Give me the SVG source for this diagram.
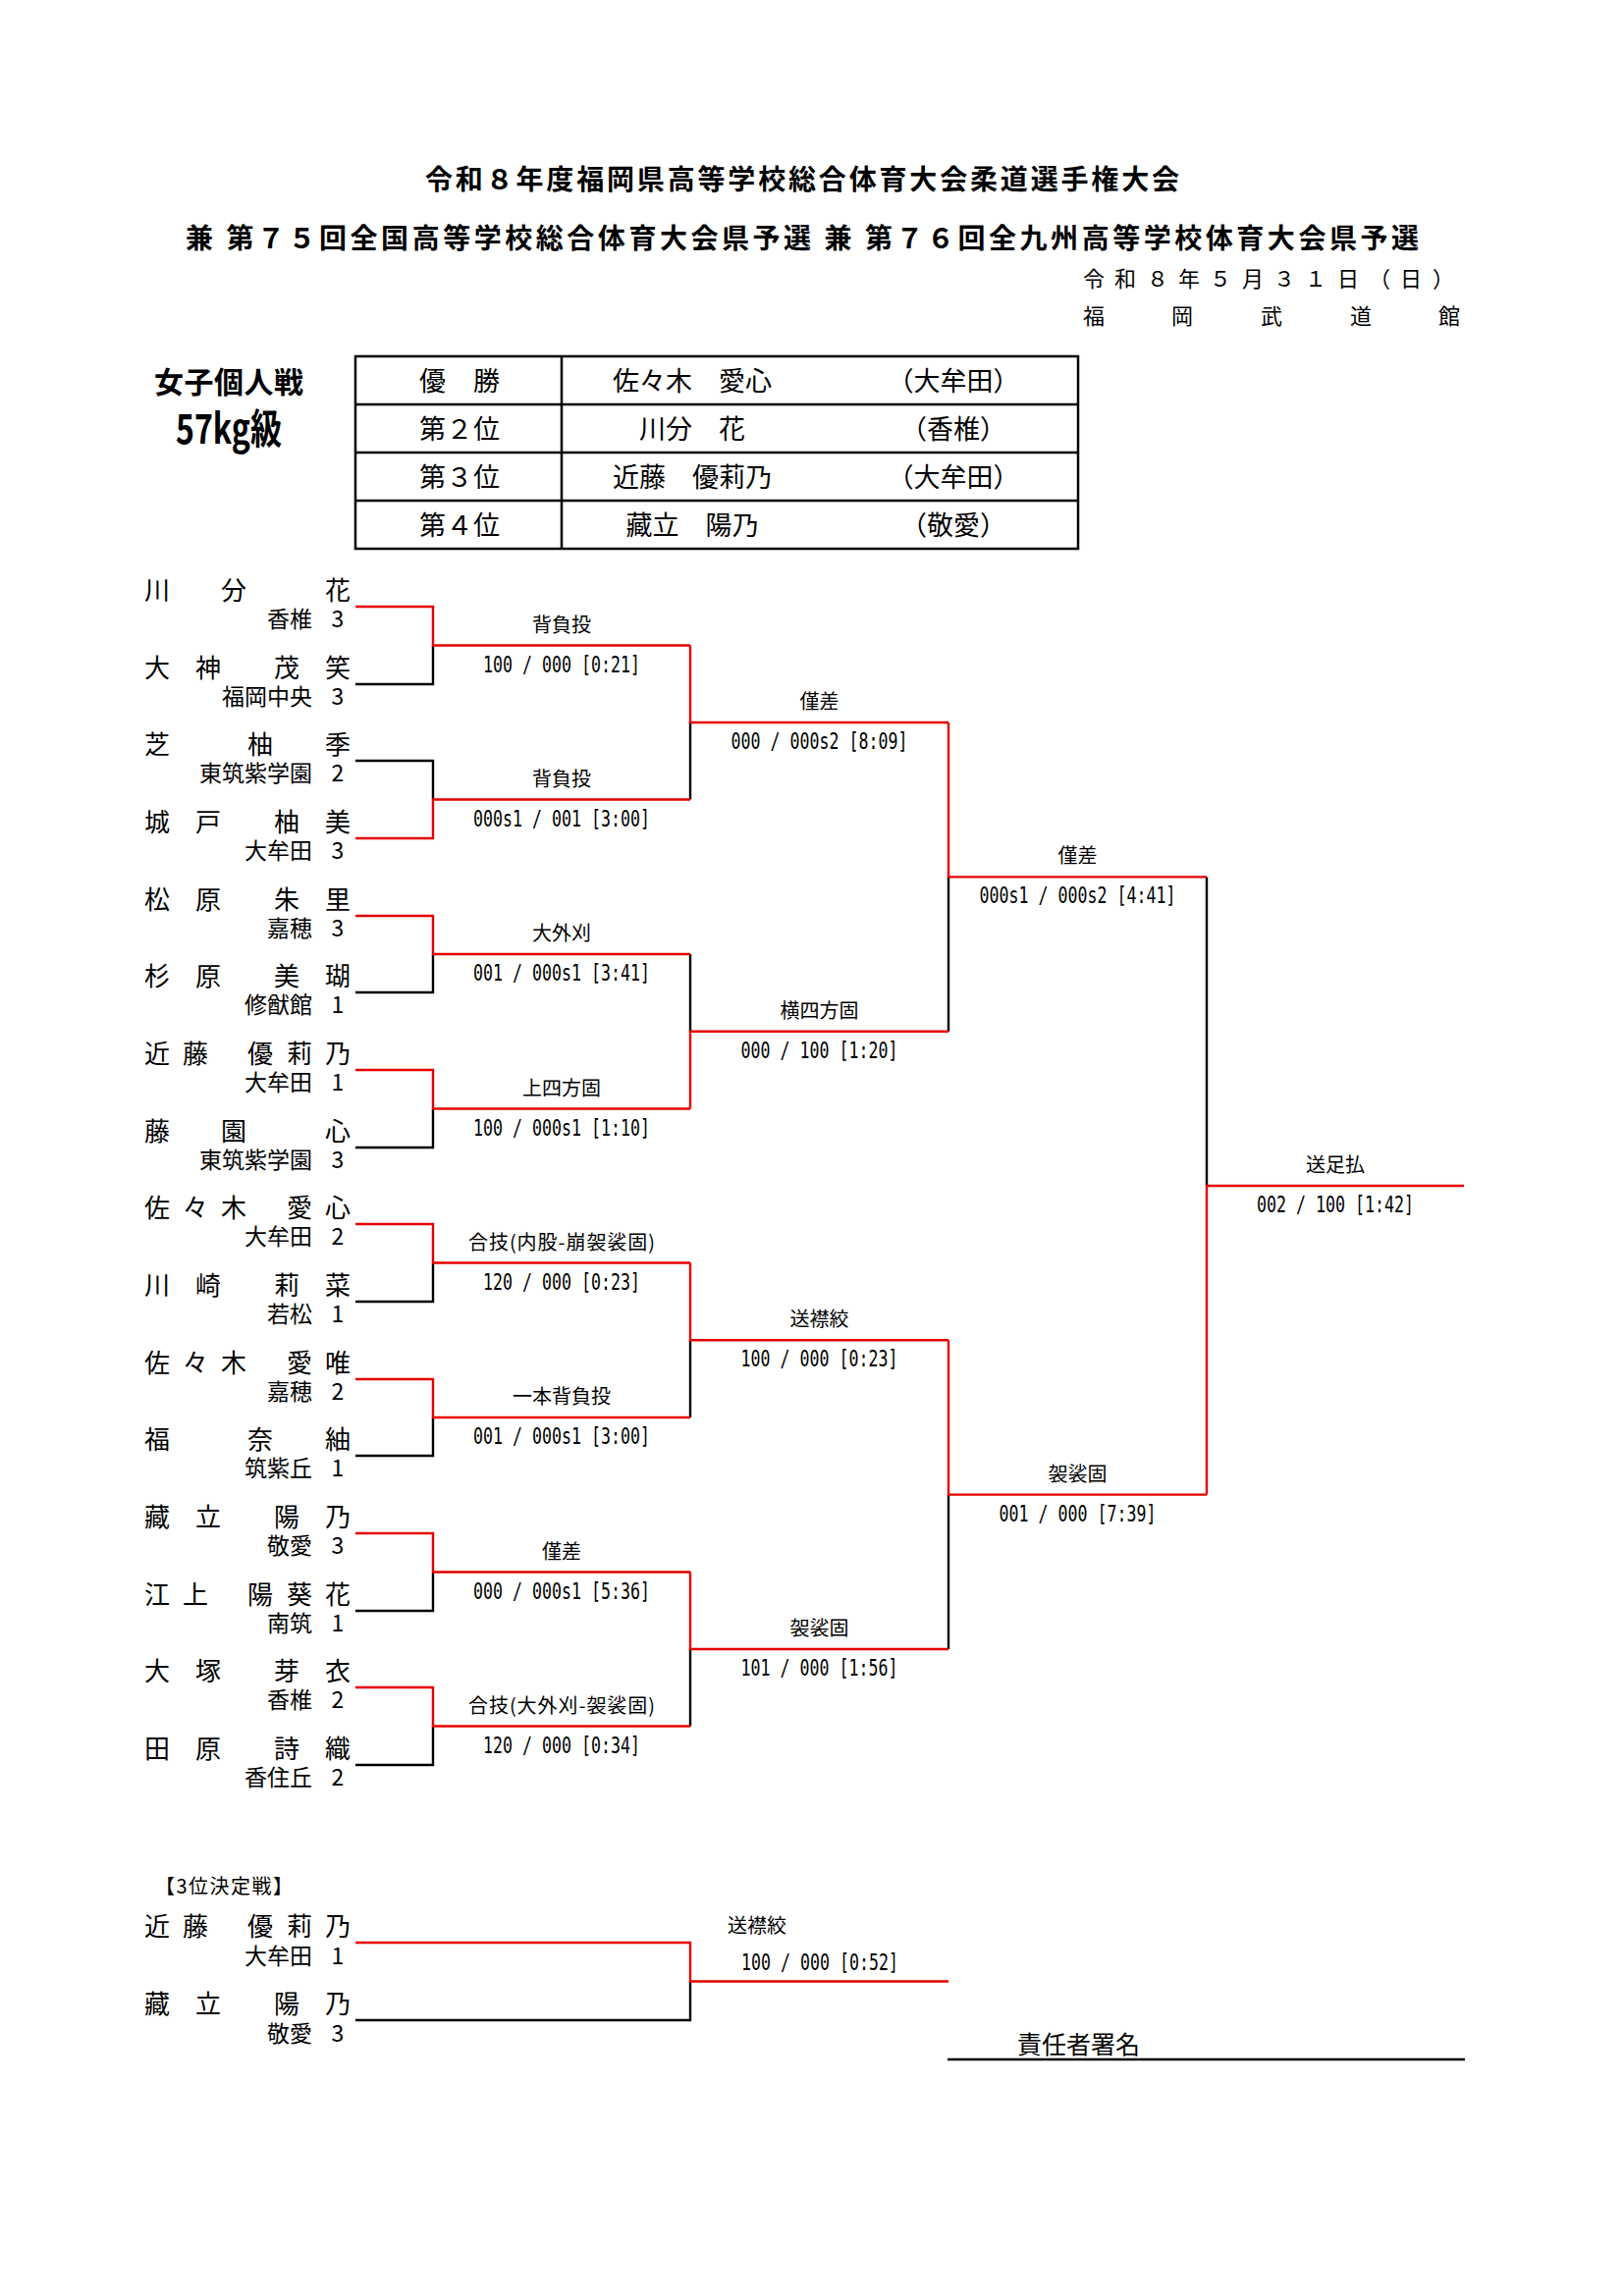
<svg xmlns="http://www.w3.org/2000/svg" width="1654" height="2339" viewBox="0 0 1654 2339">
<style>
text{font-family:"Noto Sans CJK JP","Noto Sans CJK SC",sans-serif;fill:#000}
.tt{font-size:28px;font-weight:bold}
.hd{font-weight:bold}
.dt{font-size:22px}
.tb{font-size:27px}
.nm{font-size:26px}
.sc{font-size:23px}
.lb{font-size:20px}
.scr{font-family:"DejaVu Sans Mono",monospace;font-size:23px}
.mid{text-anchor:middle}
.end{text-anchor:end}
.k{fill:none;stroke:#000;stroke-width:2.4}
.r{fill:none;stroke:#e60000;stroke-width:2.4}
.box{fill:none;stroke:#000;stroke-width:2.5}
</style>
<rect width="1654" height="2339" fill="#fff"/>

<g id="header">
<text class="tt mid" x="817" y="193" textLength="768">令和８年度福岡県高等学校総合体育大会柔道選手権大会</text>
<text class="tt mid" x="817" y="253" textLength="1256">兼 第７５回全国高等学校総合体育大会県予選 兼 第７６回全九州高等学校体育大会県予選</text>
<text class="dt" x="1103 1135 1168 1200 1232 1265 1297 1329 1362 1394 1426 1459" y="292">令和８年５月３１日（日）</text>
<text class="dt" x="1103 1193 1284 1375 1465" y="330">福岡武道館</text>
<text class="hd" x="157" y="400" font-size="30" textLength="152">女子個人戦</text>
<text class="hd" x="179" y="452" font-size="42" textLength="108" lengthAdjust="spacingAndGlyphs">57kg級</text>
</g>

<g id="results-table">
<rect class="box" x="362" y="363" width="736" height="196"/>
<path class="box" d="M362,412H1098M362,461H1098M362,510H1098M572,363V559"/>
<text class="tb mid" x="468" y="398" textLength="82">優　勝</text>
<text class="tb mid" x="705" y="398">佐々木　愛心</text>
<text class="tb mid" x="971" y="398">（大牟田）</text>
<text class="tb mid" x="468" y="447" textLength="82">第２位</text>
<text class="tb mid" x="705" y="447">川分　花</text>
<text class="tb mid" x="971" y="447">（香椎）</text>
<text class="tb mid" x="468" y="496" textLength="82">第３位</text>
<text class="tb mid" x="705" y="496">近藤　優莉乃</text>
<text class="tb mid" x="971" y="496">（大牟田）</text>
<text class="tb mid" x="468" y="545" textLength="82">第４位</text>
<text class="tb mid" x="705" y="545">藏立　陽乃</text>
<text class="tb mid" x="971" y="545">（敬愛）</text>
</g>

<g id="connectors">
<path class="k" d="M362,697H441V657.5M362,775H441V814.5M362,1011H441V972M362,1169H441V1129.5M362,1326H441V1286.5M362,1483H441V1444M362,1641H441V1601.5M362,1798H441V1758.5"/>
<path class="k" d="M703,814.5V736M703,972V1050.75M703,1444V1365.25M703,1758.5V1680"/>
<path class="k" d="M966,1050.75V893.4M966,1680V1522.6M1229,893.4V1208"/>
<path class="k" d="M362,2058H703V2018.5"/>
<path class="r" d="M362,618H441V657.5H703M362,854H441V814.5H703M362,933H441V972H703M362,1090H441V1129.5H703M362,1247H441V1286.5H703M362,1405H441V1444H703M362,1562H441V1601.5H703M362,1719H441V1758.5H703"/>
<path class="r" d="M703,657.5V736H966M703,1129.5V1050.75H966M703,1286.5V1365.25H966M703,1601.5V1680H966"/>
<path class="r" d="M966,736V893.4H1229M966,1365.25V1522.6H1229M1229,1522.6V1208H1491"/>
<path class="r" d="M362,1979H703V2018.5H966"/>
</g>

<g id="p1"><text class="nm" x="147 225 331" y="611">川分花</text><text class="sc end" x="318" y="639">香椎</text><text class="sc mid" x="344" y="639">3</text></g>
<g id="p2"><text class="nm" x="147 199 279 331" y="690">大神茂笑</text><text class="sc end" x="318" y="718">福岡中央</text><text class="sc mid" x="344" y="718">3</text></g>
<g id="p3"><text class="nm" x="147 252 331" y="768">芝柚季</text><text class="sc end" x="318" y="796">東筑紫学園</text><text class="sc mid" x="344" y="796">2</text></g>
<g id="p4"><text class="nm" x="147 199 279 331" y="847">城戸柚美</text><text class="sc end" x="318" y="875">大牟田</text><text class="sc mid" x="344" y="875">3</text></g>
<g id="p5"><text class="nm" x="147 199 279 331" y="926">松原朱里</text><text class="sc end" x="318" y="954">嘉穂</text><text class="sc mid" x="344" y="954">3</text></g>
<g id="p6"><text class="nm" x="147 199 279 331" y="1004">杉原美瑚</text><text class="sc end" x="318" y="1032">修猷館</text><text class="sc mid" x="344" y="1032">1</text></g>
<g id="p7"><text class="nm" x="147 186 252 292 331" y="1083">近藤優莉乃</text><text class="sc end" x="318" y="1111">大牟田</text><text class="sc mid" x="344" y="1111">1</text></g>
<g id="p8"><text class="nm" x="147 225 331" y="1162">藤園心</text><text class="sc end" x="318" y="1190">東筑紫学園</text><text class="sc mid" x="344" y="1190">3</text></g>
<g id="p9"><text class="nm" x="147 186 225 292 331" y="1240">佐々木愛心</text><text class="sc end" x="318" y="1268">大牟田</text><text class="sc mid" x="344" y="1268">2</text></g>
<g id="p10"><text class="nm" x="147 199 279 331" y="1319">川崎莉菜</text><text class="sc end" x="318" y="1347">若松</text><text class="sc mid" x="344" y="1347">1</text></g>
<g id="p11"><text class="nm" x="147 186 225 292 331" y="1398">佐々木愛唯</text><text class="sc end" x="318" y="1426">嘉穂</text><text class="sc mid" x="344" y="1426">2</text></g>
<g id="p12"><text class="nm" x="147 252 331" y="1476">福奈紬</text><text class="sc end" x="318" y="1504">筑紫丘</text><text class="sc mid" x="344" y="1504">1</text></g>
<g id="p13"><text class="nm" x="147 199 279 331" y="1555">藏立陽乃</text><text class="sc end" x="318" y="1583">敬愛</text><text class="sc mid" x="344" y="1583">3</text></g>
<g id="p14"><text class="nm" x="147 186 252 292 331" y="1634">江上陽葵花</text><text class="sc end" x="318" y="1662">南筑</text><text class="sc mid" x="344" y="1662">1</text></g>
<g id="p15"><text class="nm" x="147 199 279 331" y="1712">大塚芽衣</text><text class="sc end" x="318" y="1740">香椎</text><text class="sc mid" x="344" y="1740">2</text></g>
<g id="p16"><text class="nm" x="147 199 279 331" y="1791">田原詩織</text><text class="sc end" x="318" y="1819">香住丘</text><text class="sc mid" x="344" y="1819">2</text></g>

<g id="m1"><text class="lb mid" x="572" y="643.5">背負投</text><text class="scr mid" x="572" y="684.5" textLength="160" lengthAdjust="spacingAndGlyphs">100 / 000 [0:21]</text></g>
<g id="m2"><text class="lb mid" x="572" y="800.5">背負投</text><text class="scr mid" x="572" y="841.5" textLength="180" lengthAdjust="spacingAndGlyphs">000s1 / 001 [3:00]</text></g>
<g id="m3"><text class="lb mid" x="572" y="958">大外刈</text><text class="scr mid" x="572" y="999" textLength="180" lengthAdjust="spacingAndGlyphs">001 / 000s1 [3:41]</text></g>
<g id="m4"><text class="lb mid" x="572" y="1115.5">上四方固</text><text class="scr mid" x="572" y="1156.5" textLength="180" lengthAdjust="spacingAndGlyphs">100 / 000s1 [1:10]</text></g>
<g id="m5"><text class="lb mid" x="572" y="1272.5" textLength="190">合技(内股-崩袈裟固)</text><text class="scr mid" x="572" y="1313.5" textLength="160" lengthAdjust="spacingAndGlyphs">120 / 000 [0:23]</text></g>
<g id="m6"><text class="lb mid" x="572" y="1430">一本背負投</text><text class="scr mid" x="572" y="1471" textLength="180" lengthAdjust="spacingAndGlyphs">001 / 000s1 [3:00]</text></g>
<g id="m7"><text class="lb mid" x="572" y="1587.5">僅差</text><text class="scr mid" x="572" y="1628.5" textLength="180" lengthAdjust="spacingAndGlyphs">000 / 000s1 [5:36]</text></g>
<g id="m8"><text class="lb mid" x="572" y="1744.5" textLength="190">合技(大外刈-袈裟固)</text><text class="scr mid" x="572" y="1785.5" textLength="160" lengthAdjust="spacingAndGlyphs">120 / 000 [0:34]</text></g>
<g id="q1"><text class="lb mid" x="834.5" y="722">僅差</text><text class="scr mid" x="834.5" y="763" textLength="180" lengthAdjust="spacingAndGlyphs">000 / 000s2 [8:09]</text></g>
<g id="q2"><text class="lb mid" x="834.5" y="1036.75">横四方固</text><text class="scr mid" x="834.5" y="1077.75" textLength="160" lengthAdjust="spacingAndGlyphs">000 / 100 [1:20]</text></g>
<g id="q3"><text class="lb mid" x="834.5" y="1351.25">送襟絞</text><text class="scr mid" x="834.5" y="1392.25" textLength="160" lengthAdjust="spacingAndGlyphs">100 / 000 [0:23]</text></g>
<g id="q4"><text class="lb mid" x="834.5" y="1666">袈裟固</text><text class="scr mid" x="834.5" y="1707" textLength="160" lengthAdjust="spacingAndGlyphs">101 / 000 [1:56]</text></g>
<g id="s1"><text class="lb mid" x="1097.5" y="879.4">僅差</text><text class="scr mid" x="1097.5" y="920.4" textLength="200" lengthAdjust="spacingAndGlyphs">000s1 / 000s2 [4:41]</text></g>
<g id="s2"><text class="lb mid" x="1097.5" y="1508.6">袈裟固</text><text class="scr mid" x="1097.5" y="1549.6" textLength="160" lengthAdjust="spacingAndGlyphs">001 / 000 [7:39]</text></g>
<g id="final"><text class="lb mid" x="1360" y="1194">送足払</text><text class="scr mid" x="1360" y="1235" textLength="160" lengthAdjust="spacingAndGlyphs">002 / 100 [1:42]</text></g>

<g id="third-place">
<text class="lb" x="158" y="1929" textLength="140">【3位決定戦】</text>
<g id="tp1"><text class="nm" x="147 186 252 292 331" y="1972">近藤優莉乃</text><text class="sc end" x="318" y="2001">大牟田</text><text class="sc mid" x="344" y="2001">1</text></g>
<g id="tp2"><text class="nm" x="147 199 279 331" y="2051">藏立陽乃</text><text class="sc end" x="318" y="2080">敬愛</text><text class="sc mid" x="344" y="2080">3</text></g>
<g id="tp-match"><text class="lb" x="741" y="1969">送襟絞</text><text class="scr mid" x="835" y="2007" textLength="160" lengthAdjust="spacingAndGlyphs">100 / 000 [0:52]</text></g>
</g>

<g id="signature">
<text x="1036" y="2092" font-size="25" textLength="125">責任者署名</text>
<path class="box" d="M965,2098H1492"/>
</g>
</svg>
